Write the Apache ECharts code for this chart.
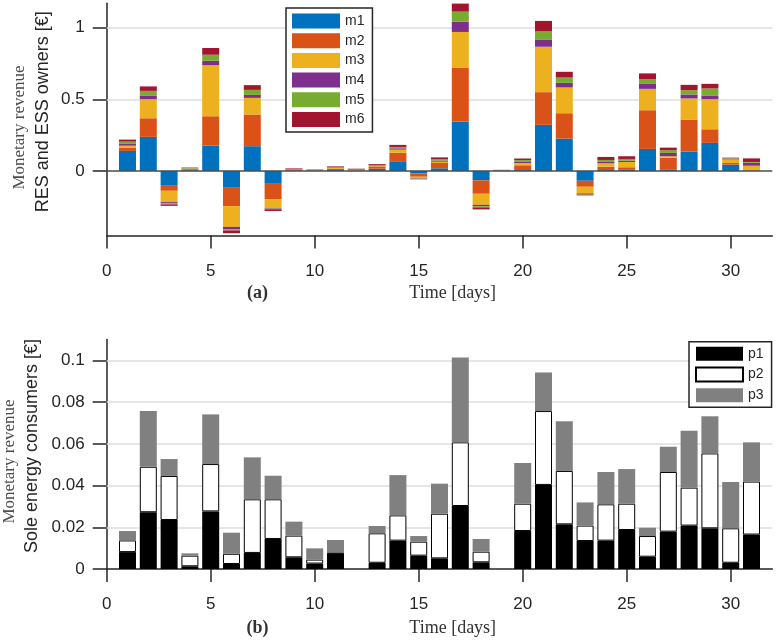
<!DOCTYPE html>
<html>
<head>
<meta charset="utf-8">
<script src="https://cdn.jsdelivr.net/npm/echarts@6/dist/echarts.min.js"></script>
<style>
  html, body { margin: 0; padding: 0; background: #fff; }
  #main { width: 781px; height: 643px; }
</style>
</head>
<body>
<div id="main"></div>
<script>
// days of the month
var days = [1,2,3,4,5,6,7,8,9,10,11,12,13,14,15,16,17,18,19,20,21,22,23,24,25,26,27,28,29,30,31];

// (a) revenue of RES and ESS owners, per owner m1..m6 [EUR]
var m1 = [0.14,0.238,-0.103,0.005,0.177,-0.117,0.173,-0.084,0.003,0.001,0.007,0.002,0.016,0.068,-0.016,0.019,0.345,-0.065,0.001,0.007,0.322,0.226,-0.068,0.007,0.012,0.154,0.012,0.135,0.196,0.044,0.003];
var m2 = [0.023,0.13,-0.035,0.008,0.205,-0.128,0.221,-0.114,0.004,0.002,0.01,0.003,0.012,0.06,-0.024,0.037,0.377,-0.094,0.001,0.033,0.228,0.177,-0.042,0.023,0.014,0.27,0.081,0.224,0.095,0.012,0.002];
var m3 = [0.014,0.133,-0.079,0.004,0.357,-0.145,0.116,-0.061,0.002,0.001,0.005,0.002,0.006,0.021,-0.009,0.009,0.248,-0.077,0.001,0.016,0.317,0.18,-0.046,0.024,0.037,0.149,0.01,0.147,0.21,0.025,0.032];
var m4 = [0.012,0.023,-0.008,0.002,0.03,-0.016,0.021,-0.004,0.002,0.001,0.004,0.002,0.005,0.009,-0.003,0.008,0.072,-0.01,0.001,0.011,0.051,0.032,-0.004,0.009,0.009,0.038,0.023,0.028,0.026,0.005,0.021];
var m5 = [0.016,0.035,-0.008,0.002,0.042,-0.009,0.035,-0.004,0.001,0.001,0.003,0.002,0.004,0.01,-0.003,0.01,0.07,-0.008,0.001,0.009,0.056,0.037,-0.004,0.014,0.012,0.03,0.019,0.03,0.049,0.003,0.005];
var m6 = [0.014,0.031,-0.01,0.003,0.047,-0.019,0.033,-0.012,0.006,0.004,0.004,0.005,0.006,0.014,-0.003,0.012,0.056,-0.014,0.003,0.011,0.073,0.04,-0.006,0.021,0.019,0.04,0.018,0.037,0.032,0.004,0.025];

// (b) revenue of sole energy consumers p1..p3 [EUR] (null = no bar that day)
var p1 = [0.0081,0.0272,0.0235,0.0013,0.0276,0.0024,0.0077,0.0144,0.0056,0.0026,0.0075,null,0.003,0.0136,0.0064,0.0051,0.0302,0.0032,null,0.0182,0.0403,0.0214,0.0134,0.0136,0.0187,0.0059,0.0179,0.0208,0.0195,0.003,0.0165];
var p2 = [0.0056,0.0218,0.0211,0.0051,0.0227,0.0049,0.0257,0.019,0.0104,0.0019,0.0003,null,0.0141,0.0121,0.0067,0.0214,0.0305,0.0051,null,0.0131,0.0354,0.0256,0.0074,0.0174,0.0126,0.0099,0.0286,0.0182,0.0359,0.0165,0.0254];
var p3 = [0.0045,0.0267,0.0081,0.0011,0.0238,0.0101,0.0201,0.0113,0.0067,0.0054,0.0061,null,0.0035,0.0193,0.0027,0.0144,0.0407,0.0061,null,0.0195,0.0185,0.0238,0.0111,0.0155,0.0166,0.004,0.0121,0.0273,0.0178,0.0222,0.0188];

// tick labels
var xTicks = [0,5,10,15,20,25,30];
var yTicksA = [0,0.5,1];
var yTicksB = [0,0.02,0.04,0.06,0.08,0.1];
var xMax = 32;

var mColors = ['#0072BD','#D95319','#EDB120','#7E2F8E','#77AC30','#A2142F'];
var mNames = ['m1','m2','m3','m4','m5','m6'];
var mData = [m1,m2,m3,m4,m5,m6];
var pNames = ['p1','p2','p3'];
var pData = [p1,p2,p3];

var axisColor = '#262626';
var gridColor = '#dedede';

// hidden category axis 0..xMax used to place and stack bars
var cats = [];
for (var c = 0; c <= xMax; c++) cats.push(String(c));

function pairs(arr) {
  return days.map(function (d, i) { return [String(d), arr[i]]; });
}

function catAxisOf(gi) {
  return { type: 'category', gridIndex: gi, data: cats, boundaryGap: false, show: false };
}

function xAxisOf(gi) {
  return {
    type: 'value', gridIndex: gi, min: 0, max: xMax,
    axisLine: { show: true, onZero: false, lineStyle: { color: axisColor, width: 1.5 } },
    axisTick: { show: true, inside: false, length: 13, customValues: xTicks, lineStyle: { color: axisColor, width: 1.5 } },
    axisLabel: { customValues: xTicks, margin: 27, color: axisColor, fontSize: 17, fontFamily: 'Liberation Sans' },
    splitLine: { show: false }
  };
}

function yAxisOf(gi, min, max, ticks) {
  return {
    type: 'value', gridIndex: gi, min: min, max: max,
    axisLine: { show: true, onZero: false, lineStyle: { color: axisColor, width: 1.5 } },
    axisTick: { show: true, inside: false, length: 14, customValues: ticks, lineStyle: { color: axisColor, width: 1.5 } },
    axisLabel: { customValues: ticks, margin: 22, color: axisColor, fontSize: 17, fontFamily: 'Liberation Sans',
      formatter: function (v) { return String(v); } },
    splitLine: { show: false }
  };
}

function gridLines(ticks) {
  return {
    silent: true, symbol: 'none', z: 5, label: { show: false },
    data: ticks.filter(function (v) { return v !== 0; }).map(function (v) {
      return { yAxis: v, lineStyle: { color: gridColor, width: 1.5, type: 'solid' } };
    })
  };
}

var series = [];
mNames.forEach(function (name, k) {
  var s = {
    name: name, type: 'bar', stack: 'a', xAxisIndex: 2, yAxisIndex: 0, z: 10,
    barWidth: 17, data: pairs(mData[k]),
    itemStyle: { color: mColors[k] },
    emphasis: { disabled: true }
  };
  if (k === 0) s.markLine = gridLines(yTicksA);
  if (k === 1) {
    s.markLine = {
      silent: true, symbol: 'none', z: 12, label: { show: false },
      data: [{ yAxis: 0, lineStyle: { color: '#4d4d4d', width: 1.5, type: 'solid' } }]
    };
  }
  series.push(s);
});

var pStyles = [
  { color: '#000000' },
  { color: '#ffffff', borderColor: '#000000', borderWidth: 1 },
  { color: '#808080' }
];
pNames.forEach(function (name, k) {
  var s = {
    name: name, type: 'bar', stack: 'b', xAxisIndex: 3, yAxisIndex: 1, z: 10,
    barWidth: 17, data: pairs(pData[k]),
    itemStyle: pStyles[k],
    emphasis: { disabled: true }
  };
  if (k === 0) s.markLine = gridLines(yTicksB);
  series.push(s);
});

var serifFont = '"Liberation Serif", "DejaVu Serif", serif';
var sansFont = '"Liberation Sans", Arial, sans-serif';

function txt(x, y, text, font, fill, rot) {
  return {
    type: 'text', x: x, y: y, rotation: rot || 0, silent: true,
    style: { text: text, font: font, fill: fill, align: 'center', verticalAlign: 'middle' }
  };
}

var chart = echarts.init(document.getElementById('main'), null, { renderer: 'canvas' });
var option = {
  animation: false,
  backgroundColor: '#ffffff',
  grid: [
    { left: 106.7, right: 8.7, top: 3.3, bottom: 407.5 },
    { left: 106.7, right: 8.7, top: 339.5, bottom: 74 }
  ],
  xAxis: [xAxisOf(0), xAxisOf(1), catAxisOf(0), catAxisOf(1)],
  yAxis: [
    yAxisOf(0, -0.45, 1.17, yTicksA),
    yAxisOf(1, 0, 0.11, yTicksB)
  ],
  legend: [
    {
      data: mNames, orient: 'vertical', left: 286, top: 8, z: 20,
      itemWidth: 48, itemHeight: 15, itemGap: 4.7,
      padding: [5.5, 8, 5, 6],
      borderColor: axisColor, borderWidth: 1.5, backgroundColor: '#fff',
      icon: 'rect', selectedMode: false,
      textStyle: { fontSize: 14, color: axisColor, fontFamily: 'Liberation Sans' }
    },
    {
      data: pNames, orient: 'vertical', left: 689, top: 341.7, z: 20,
      itemWidth: 47, itemHeight: 14, itemGap: 5.8,
      padding: [5, 8, 5, 6],
      borderColor: axisColor, borderWidth: 1.5, backgroundColor: '#fff',
      icon: 'rect', selectedMode: false,
      textStyle: { fontSize: 14, color: axisColor, fontFamily: 'Liberation Sans' }
    }
  ],
  graphic: [
    txt(20, 127.5, 'Monetary revenue', '17px ' + serifFont, '#4d4d4d', Math.PI / 2),
    txt(43, 111.7, 'RES and ESS owners [€]', '18px ' + sansFont, axisColor, Math.PI / 2),
    txt(10, 461.5, 'Monetary revenue', '17px ' + serifFont, '#4d4d4d', Math.PI / 2),
    txt(32, 446, 'Sole energy consumers [€]', '18px ' + sansFont, axisColor, Math.PI / 2),
    txt(452.7, 293, 'Time [days]', '18px ' + serifFont, '#333333'),
    txt(257.5, 293, '(a)', 'bold 18px ' + serifFont, '#333333'),
    txt(452.7, 628, 'Time [days]', '18px ' + serifFont, '#333333'),
    txt(257.5, 628, '(b)', 'bold 18px ' + serifFont, '#333333')
  ],
  series: series
};
chart.setOption(option);
window.addEventListener('resize', function () { chart.resize(); });
</script>
</body>
</html>
